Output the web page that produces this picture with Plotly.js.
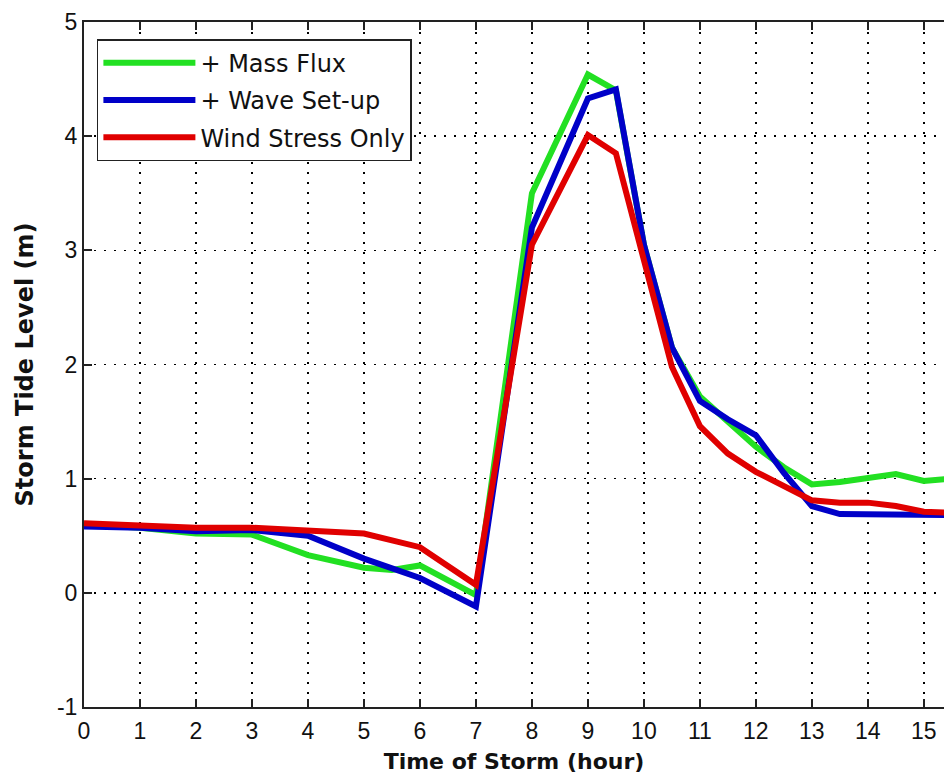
<!DOCTYPE html>
<html>
<head>
<meta charset="utf-8">
<script src="https://cdn.plot.ly/plotly-3.0.1.min.js"></script>
<style>html,body{margin:0;padding:0;background:#fff;}#chart{width:944px;height:778px;}</style>
</head>
<body>
<div id="chart"></div>
<script>
// Series: Storm tide level (m) vs time of storm (hour)
const massFluxT = [0, 1, 2, 3, 4, 5, 5.5, 6, 7, 8, 9, 9.5, 10, 10.5, 11, 11.5, 12, 12.5, 13, 13.5, 14, 14.5, 15, 15.5];
const massFluxV = [0.60, 0.57, 0.52, 0.51, 0.33, 0.22, 0.20, 0.24, -0.02, 3.50, 4.54, 4.40, 3.05, 2.15, 1.72, 1.50, 1.28, 1.10, 0.95, 0.97, 1.00, 1.04, 0.98, 1.00];

const waveSetupT = [0, 1, 2, 3, 4, 5, 6, 7, 8, 9, 9.5, 10, 10.5, 11, 11.5, 12, 12.5, 13, 13.5, 14, 14.5, 15, 15.5];
const waveSetupV = [0.58, 0.57, 0.54, 0.55, 0.50, 0.30, 0.13, -0.12, 3.20, 4.33, 4.41, 3.05, 2.15, 1.68, 1.52, 1.38, 1.05, 0.76, 0.69, 0.69, 0.69, 0.68, 0.68];

const windStressT = [0, 1, 2, 3, 4, 5, 6, 7, 8, 9, 9.5, 10, 10.5, 11, 11.5, 12, 12.5, 13, 13.5, 14, 14.5, 15, 15.5];
const windStressV = [0.61, 0.59, 0.57, 0.57, 0.55, 0.52, 0.40, 0.07, 3.05, 4.01, 3.85, 2.92, 1.98, 1.46, 1.22, 1.06, 0.93, 0.81, 0.79, 0.79, 0.76, 0.71, 0.70];

const seriesNames = ['+ Mass Flux', '+ Wave Set-up', 'Wind Stress Only'];
const xTicks = [0,1,2,3,4,5,6,7,8,9,10,11,12,13,14,15];
const yTicks = [-1,0,1,2,3,4,5];

const colors = ['#22e022', '#0000c8', '#e00000'];
const lw = 6;

const traces = [
  {x: massFluxT, y: massFluxV, name: seriesNames[0], legendgroup: 'g1', mode: 'lines', line: {color: colors[0], width: lw}},
  {x: waveSetupT, y: waveSetupV, name: seriesNames[1], legendgroup: 'g2', mode: 'lines', line: {color: colors[1], width: lw}},
  {x: windStressT, y: windStressV, name: seriesNames[2], legendgroup: 'g3', mode: 'lines', line: {color: colors[2], width: lw}}
];

const tickFam = '"Liberation Sans", Arial, sans-serif';
const textFam = '"DejaVu Sans", "Liberation Sans", Arial, sans-serif';
const layout = {
  width: 944, height: 778,
  margin: {l: 84, r: 0, t: 22, b: 71, pad: 0},
  paper_bgcolor: '#ffffff', plot_bgcolor: '#ffffff',
  font: {family: tickFam, size: 23, color: '#111'},
  showlegend: true,
  legend: {
    x: 0.015, y: 0.975, xanchor: 'left', yanchor: 'top',
    bgcolor: '#ffffff', bordercolor: '#222', borderwidth: 1.5,
    font: {family: textFam, size: 24, color: '#111'},
    itemwidth: 92, tracegroupgap: 3
  },
  xaxis: {
    range: [0, 15.36], tickmode: 'array', tickvals: xTicks, ticktext: xTicks.map(String),
    ticks: 'inside', ticklen: 8, tickwidth: 2, tickcolor: '#222',
    showline: true, linewidth: 2, linecolor: '#222', mirror: 'ticks',
    showgrid: true, gridcolor: '#000', gridwidth: 1.5, griddash: '2px,8px',
    zeroline: false, ticklabelstandoff: 2,
    tickfont: {family: tickFam, size: 23, color: '#111'},
    title: {text: 'Time of Storm (hour)', font: {family: textFam, size: 22, color: '#111', weight: 'bold'}, standoff: 11}
  },
  yaxis: {
    range: [-1, 5], tickmode: 'array', tickvals: yTicks, ticktext: yTicks.map(String),
    ticks: 'inside', ticklen: 8, tickwidth: 2, tickcolor: '#222',
    showline: true, linewidth: 2, linecolor: '#222', mirror: false,
    showgrid: true, gridcolor: '#000', gridwidth: 1.5, griddash: '2px,8px',
    zeroline: false, ticklabelstandoff: 0,
    tickfont: {family: tickFam, size: 23, color: '#111'},
    title: {text: 'Storm Tide Level (m)', font: {family: textFam, size: 24, color: '#111', weight: 'bold'}, standoff: 17}
  }
};

Plotly.newPlot('chart', traces, layout, {staticPlot: true, displayModeBar: false});
</script>
</body>
</html>
